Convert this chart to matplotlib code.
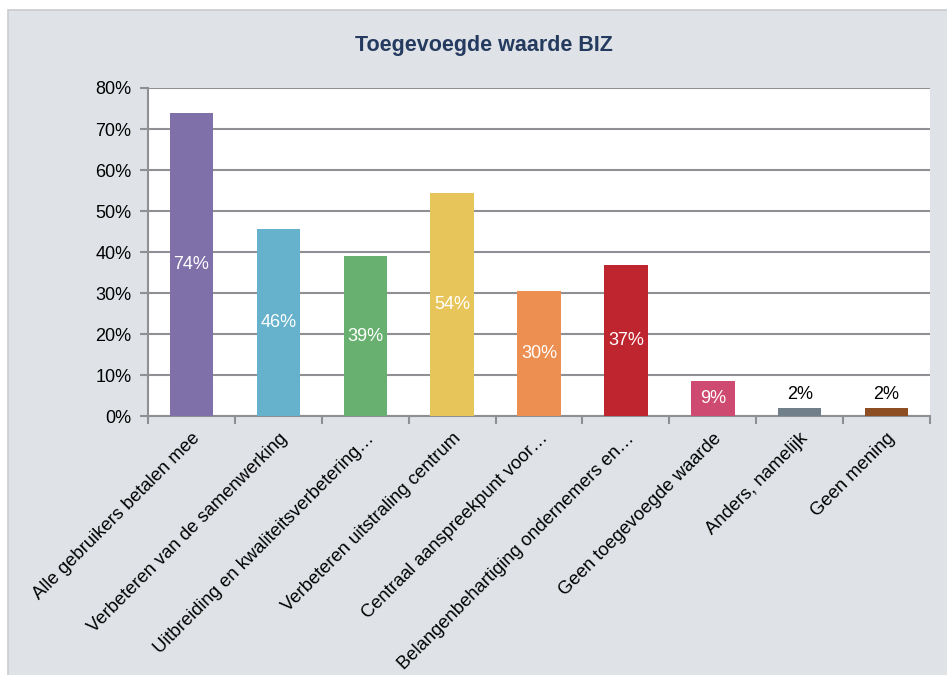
import numpy as np
import matplotlib
matplotlib.use('Agg')
import matplotlib.pyplot as plt
from matplotlib.patches import Rectangle

plt.rcParams['font.family'] = ['Liberation Sans', 'DejaVu Sans']

categories = ['Alle gebruikers betalen mee',
              'Verbeteren van de samenwerking',
              'Uitbreiding en kwaliteitsverbetering\u2026',
              'Verbeteren uitstraling centrum',
              'Centraal aanspreekpunt voor\u2026',
              'Belangenbehartiging ondernemers en\u2026',
              'Geen toegevoegde waarde',
              'Anders, namelijk',
              'Geen mening']
values = [73.9, 45.6, 39.0, 54.4, 30.5, 36.8, 8.6, 2.0, 2.0]
labels = ['74%', '46%', '39%', '54%', '30%', '37%', '9%', '2%', '2%']
colors = ['#7f70aa', '#66b2cc', '#68b070', '#e8c55a', '#ec8f50',
          '#bf252e', '#cf4a71', '#717f8b', '#8e4e24']

fig = plt.figure(figsize=(9.47, 6.75), dpi=100, facecolor='white')

# grey panel behind the chart
fig.patches.append(Rectangle((8/947, -0.02), 1, 1.02 - 10/675, transform=fig.transFigure,
                             facecolor='#dfe3e7', edgecolor='#c9ccd0', lw=1.2, zorder=-1))

ax = fig.add_axes([148/947, 1 - 416/675, (930 - 148)/947, (416 - 88)/675])
ax.set_facecolor('white')

x = np.arange(len(categories))
bars = ax.bar(x, values, width=0.5, color=colors, zorder=3)

for b, v, lab in zip(bars, values, labels):
    cx = b.get_x() + b.get_width()/2
    if v > 5:
        ax.text(cx, v/2, lab, ha='center', va='center', color='white', fontsize=13, zorder=4)
    else:
        ax.text(cx, v + 1.2, lab, ha='center', va='bottom', color='black', fontsize=13, zorder=4)

ax.set_xlim(-0.5, len(categories) - 0.5)
ax.set_ylim(0, 80)
ax.set_yticks(np.arange(0, 81, 10))
ax.set_yticklabels(['%d%%' % t for t in range(0, 81, 10)], fontsize=13)
ax.yaxis.grid(True, color='#8e9094', lw=1.5, zorder=1)

ax.set_xticks(x)
ax.set_xticklabels(categories, rotation=45, ha='right', rotation_mode='anchor', fontsize=13.2)
ax.set_xticks(np.arange(-0.5, len(categories)), minor=True)
ax.tick_params(axis='x', which='major', length=0, pad=10)
ax.tick_params(axis='x', which='minor', length=6, width=1.5, color='#8e9094')
ax.tick_params(axis='y', length=6, width=1.5, color='#8e9094', pad=6)

for s in ['top', 'right']:
    ax.spines[s].set_visible(False)
for s in ['left', 'bottom']:
    ax.spines[s].set_color('#8e9094')
    ax.spines[s].set_linewidth(1.5)

fig.text(484/947, 1 - 45/675, 'Toegevoegde waarde BIZ', ha='center', va='center',
         fontsize=15.5, fontweight='bold', color='#243a5e')

fig.savefig('out.png', dpi=100)
